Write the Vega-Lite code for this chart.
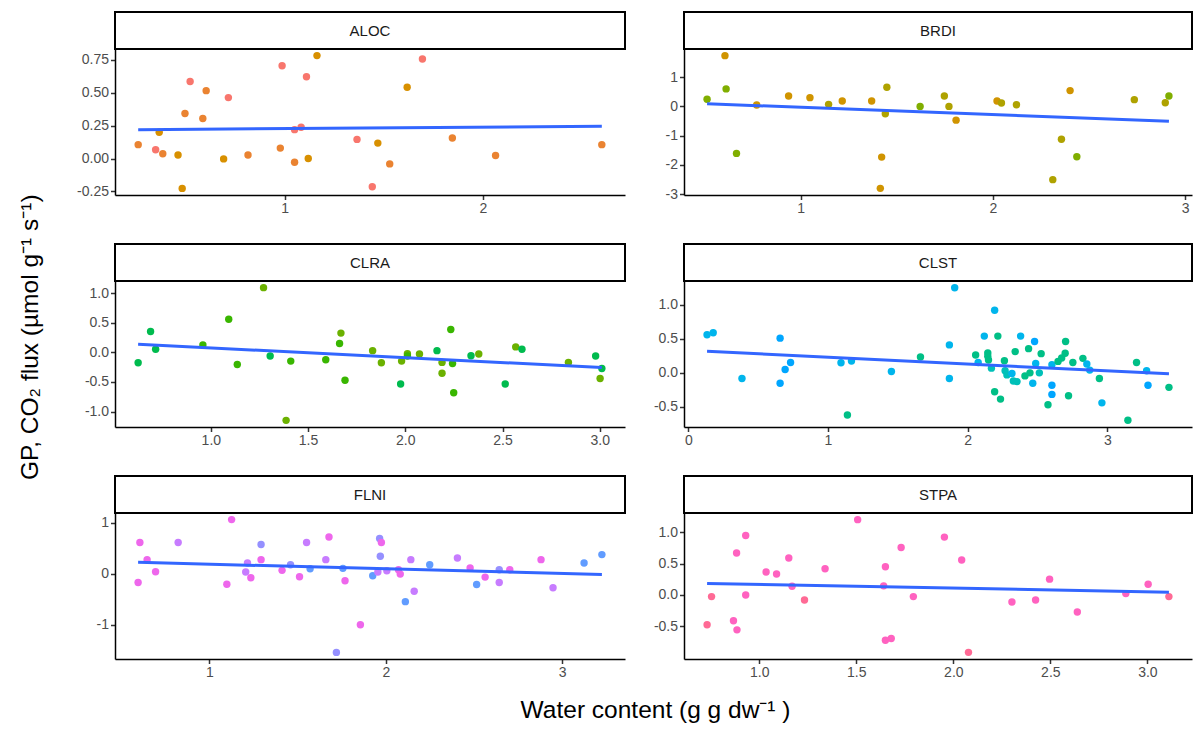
{
"$schema": "https://vega.github.io/schema/vega-lite/v6.json",
"padding": {"top": 11, "left": 18, "right": 3, "bottom": 5},
"config": {
  "font": "Liberation Sans",
  "view": {"stroke": null},
  "axis": {"grid": false, "domainColor": "#000000", "domainWidth": 1.5, "tickColor": "#333333", "tickWidth": 1.5, "tickSize": 4.5, "labelColor": "#4D4D4D", "labelFontSize": 14, "labelPadding": 2, "labelFlush": false, "labelOverlap": false, "titleFontSize": 18, "titleFontWeight": "normal", "titleColor": "#000000", "titleFont": "Liberation Sans", "labelFont": "Liberation Sans"},
  "axisY": {"minExtent": 34, "maxExtent": 34}
},
"datasets": {
"pts": [
{"p":"ALOC","x":0.261,"y":0.105,"g":"A2"},{"p":"ALOC","x":0.349,"y":0.066,"g":"A1"},{"p":"ALOC","x":0.367,"y":0.199,"g":"A3"},{"p":"ALOC","x":0.385,"y":0.036,"g":"A2"},{"p":"ALOC","x":0.462,"y":0.026,"g":"A3"},{"p":"ALOC","x":0.483,"y":-0.227,"g":"A3"},{"p":"ALOC","x":0.497,"y":0.342,"g":"A2"},{"p":"ALOC","x":0.523,"y":0.584,"g":"A1"},{"p":"ALOC","x":0.587,"y":0.304,"g":"A2"},{"p":"ALOC","x":0.604,"y":0.515,"g":"A2"},{"p":"ALOC","x":0.692,"y":-0.003,"g":"A3"},{"p":"ALOC","x":0.716,"y":0.462,"g":"A1"},{"p":"ALOC","x":0.815,"y":0.026,"g":"A2"},{"p":"ALOC","x":0.978,"y":0.079,"g":"A2"},{"p":"ALOC","x":0.987,"y":0.704,"g":"A1"},{"p":"ALOC","x":1.05,"y":-0.028,"g":"A2"},{"p":"ALOC","x":1.05,"y":0.219,"g":"A1"},{"p":"ALOC","x":1.083,"y":0.237,"g":"A1"},{"p":"ALOC","x":1.11,"y":0.62,"g":"A1"},{"p":"ALOC","x":1.119,"y":0.0,"g":"A3"},{"p":"ALOC","x":1.163,"y":0.781,"g":"A3"},{"p":"ALOC","x":1.365,"y":0.145,"g":"A1"},{"p":"ALOC","x":1.442,"y":-0.214,"g":"A1"},{"p":"ALOC","x":1.47,"y":0.117,"g":"A3"},{"p":"ALOC","x":1.53,"y":-0.041,"g":"A2"},{"p":"ALOC","x":1.618,"y":0.541,"g":"A3"},{"p":"ALOC","x":1.695,"y":0.755,"g":"A1"},{"p":"ALOC","x":1.846,"y":0.156,"g":"A2"},{"p":"ALOC","x":2.064,"y":0.023,"g":"A2"},{"p":"ALOC","x":2.6,"y":0.105,"g":"A2"},
{"p":"BRDI","x":0.514,"y":0.241,"g":"B3"},{"p":"BRDI","x":0.607,"y":1.736,"g":"B1"},{"p":"BRDI","x":0.613,"y":0.598,"g":"B3"},{"p":"BRDI","x":0.667,"y":-1.609,"g":"B3"},{"p":"BRDI","x":0.772,"y":0.046,"g":"B1"},{"p":"BRDI","x":0.938,"y":0.356,"g":"B1"},{"p":"BRDI","x":1.049,"y":0.299,"g":"B1"},{"p":"BRDI","x":1.146,"y":0.069,"g":"B2"},{"p":"BRDI","x":1.217,"y":0.184,"g":"B1"},{"p":"BRDI","x":1.37,"y":0.184,"g":"B1"},{"p":"BRDI","x":1.422,"y":-1.736,"g":"B1"},{"p":"BRDI","x":1.415,"y":-2.805,"g":"B1"},{"p":"BRDI","x":1.441,"y":-0.253,"g":"B2"},{"p":"BRDI","x":1.449,"y":0.655,"g":"B2"},{"p":"BRDI","x":1.622,"y":0.0,"g":"B3"},{"p":"BRDI","x":1.748,"y":0.356,"g":"B2"},{"p":"BRDI","x":1.772,"y":0.0,"g":"B2"},{"p":"BRDI","x":1.809,"y":-0.471,"g":"B1"},{"p":"BRDI","x":2.022,"y":0.184,"g":"B1"},{"p":"BRDI","x":2.045,"y":0.115,"g":"B2"},{"p":"BRDI","x":2.123,"y":0.057,"g":"B2"},{"p":"BRDI","x":2.312,"y":-2.506,"g":"B2"},{"p":"BRDI","x":2.357,"y":-1.126,"g":"B2"},{"p":"BRDI","x":2.402,"y":0.54,"g":"B1"},{"p":"BRDI","x":2.437,"y":-1.724,"g":"B3"},{"p":"BRDI","x":2.736,"y":0.23,"g":"B2"},{"p":"BRDI","x":2.897,"y":0.126,"g":"B2"},{"p":"BRDI","x":2.916,"y":0.356,"g":"B3"},
{"p":"CLRA","x":0.626,"y":-0.176,"g":"C3"},{"p":"CLRA","x":0.69,"y":0.352,"g":"C3"},{"p":"CLRA","x":0.716,"y":0.051,"g":"C3"},{"p":"CLRA","x":0.959,"y":0.125,"g":"C2"},{"p":"CLRA","x":1.092,"y":0.557,"g":"C2"},{"p":"CLRA","x":1.136,"y":-0.205,"g":"C2"},{"p":"CLRA","x":1.271,"y":1.091,"g":"C1"},{"p":"CLRA","x":1.305,"y":-0.063,"g":"C3"},{"p":"CLRA","x":1.387,"y":-1.148,"g":"C1"},{"p":"CLRA","x":1.411,"y":-0.148,"g":"C2"},{"p":"CLRA","x":1.591,"y":-0.125,"g":"C2"},{"p":"CLRA","x":1.662,"y":0.148,"g":"C2"},{"p":"CLRA","x":1.669,"y":0.324,"g":"C1"},{"p":"CLRA","x":1.69,"y":-0.472,"g":"C2"},{"p":"CLRA","x":1.832,"y":0.028,"g":"C1"},{"p":"CLRA","x":1.877,"y":-0.176,"g":"C1"},{"p":"CLRA","x":1.981,"y":-0.148,"g":"C1"},{"p":"CLRA","x":1.976,"y":-0.534,"g":"C3"},{"p":"CLRA","x":2.011,"y":-0.023,"g":"C1"},{"p":"CLRA","x":2.011,"y":-0.063,"g":"C2"},{"p":"CLRA","x":2.073,"y":-0.028,"g":"C1"},{"p":"CLRA","x":2.163,"y":0.028,"g":"C3"},{"p":"CLRA","x":2.189,"y":-0.17,"g":"C1"},{"p":"CLRA","x":2.189,"y":-0.352,"g":"C1"},{"p":"CLRA","x":2.234,"y":0.386,"g":"C2"},{"p":"CLRA","x":2.243,"y":-0.188,"g":"C2"},{"p":"CLRA","x":2.249,"y":-0.682,"g":"C2"},{"p":"CLRA","x":2.338,"y":-0.057,"g":"C3"},{"p":"CLRA","x":2.378,"y":-0.028,"g":"C1"},{"p":"CLRA","x":2.514,"y":-0.534,"g":"C3"},{"p":"CLRA","x":2.568,"y":0.091,"g":"C1"},{"p":"CLRA","x":2.6,"y":0.051,"g":"C3"},{"p":"CLRA","x":2.839,"y":-0.17,"g":"C1"},{"p":"CLRA","x":2.979,"y":-0.063,"g":"C3"},{"p":"CLRA","x":3.002,"y":-0.443,"g":"C1"},{"p":"CLRA","x":3.011,"y":-0.273,"g":"C3"},
{"p":"CLST","x":0.134,"y":0.559,"g":"D1"},{"p":"CLST","x":0.178,"y":0.589,"g":"D1"},{"p":"CLST","x":0.384,"y":-0.084,"g":"D1"},{"p":"CLST","x":0.657,"y":0.51,"g":"D2"},{"p":"CLST","x":0.657,"y":-0.153,"g":"D2"},{"p":"CLST","x":0.693,"y":0.05,"g":"D2"},{"p":"CLST","x":0.732,"y":0.153,"g":"D2"},{"p":"CLST","x":1.093,"y":0.149,"g":"D1"},{"p":"CLST","x":1.139,"y":-0.619,"g":"D3"},{"p":"CLST","x":1.168,"y":0.173,"g":"D1"},{"p":"CLST","x":1.454,"y":0.02,"g":"D1"},{"p":"CLST","x":1.662,"y":0.233,"g":"D3"},{"p":"CLST","x":1.869,"y":0.411,"g":"D1"},{"p":"CLST","x":1.869,"y":-0.084,"g":"D1"},{"p":"CLST","x":1.907,"y":1.252,"g":"D1"},{"p":"CLST","x":2.057,"y":0.262,"g":"D3"},{"p":"CLST","x":2.075,"y":0.153,"g":"D1"},{"p":"CLST","x":2.119,"y":0.54,"g":"D1"},{"p":"CLST","x":2.144,"y":0.292,"g":"D3"},{"p":"CLST","x":2.144,"y":0.243,"g":"D3"},{"p":"CLST","x":2.149,"y":0.188,"g":"D3"},{"p":"CLST","x":2.17,"y":0.069,"g":"D4"},{"p":"CLST","x":2.193,"y":0.921,"g":"D1"},{"p":"CLST","x":2.193,"y":-0.277,"g":"D3"},{"p":"CLST","x":2.216,"y":0.54,"g":"D3"},{"p":"CLST","x":2.235,"y":-0.386,"g":"D3"},{"p":"CLST","x":2.263,"y":0.178,"g":"D3"},{"p":"CLST","x":2.268,"y":0.03,"g":"D4"},{"p":"CLST","x":2.281,"y":-0.03,"g":"D4"},{"p":"CLST","x":2.317,"y":-0.01,"g":"D1"},{"p":"CLST","x":2.327,"y":-0.119,"g":"D4"},{"p":"CLST","x":2.34,"y":0.312,"g":"D3"},{"p":"CLST","x":2.353,"y":-0.129,"g":"D4"},{"p":"CLST","x":2.379,"y":0.54,"g":"D1"},{"p":"CLST","x":2.41,"y":-0.045,"g":"D3"},{"p":"CLST","x":2.436,"y":0.356,"g":"D3"},{"p":"CLST","x":2.446,"y":0.0,"g":"D3"},{"p":"CLST","x":2.466,"y":-0.153,"g":"D1"},{"p":"CLST","x":2.479,"y":0.46,"g":"D2"},{"p":"CLST","x":2.487,"y":0.139,"g":"D1"},{"p":"CLST","x":2.513,"y":0.0,"g":"D4"},{"p":"CLST","x":2.526,"y":0.282,"g":"D3"},{"p":"CLST","x":2.575,"y":-0.47,"g":"D3"},{"p":"CLST","x":2.603,"y":0.119,"g":"D1"},{"p":"CLST","x":2.603,"y":-0.183,"g":"D2"},{"p":"CLST","x":2.603,"y":-0.317,"g":"D2"},{"p":"CLST","x":2.647,"y":0.168,"g":"D3"},{"p":"CLST","x":2.673,"y":0.218,"g":"D3"},{"p":"CLST","x":2.698,"y":0.287,"g":"D3"},{"p":"CLST","x":2.701,"y":0.46,"g":"D3"},{"p":"CLST","x":2.722,"y":-0.337,"g":"D3"},{"p":"CLST","x":2.753,"y":0.153,"g":"D3"},{"p":"CLST","x":2.825,"y":0.213,"g":"D3"},{"p":"CLST","x":2.853,"y":0.129,"g":"D1"},{"p":"CLST","x":2.874,"y":0.04,"g":"D1"},{"p":"CLST","x":2.943,"y":-0.084,"g":"D3"},{"p":"CLST","x":2.961,"y":-0.441,"g":"D1"},{"p":"CLST","x":3.147,"y":-0.698,"g":"D3"},{"p":"CLST","x":3.209,"y":0.153,"g":"D3"},{"p":"CLST","x":3.281,"y":0.03,"g":"D1"},{"p":"CLST","x":3.291,"y":-0.183,"g":"D2"},{"p":"CLST","x":3.441,"y":-0.213,"g":"D3"},
{"p":"FLNI","x":0.596,"y":-0.172,"g":"E1"},{"p":"FLNI","x":0.606,"y":0.614,"g":"E1"},{"p":"FLNI","x":0.647,"y":0.277,"g":"E1"},{"p":"FLNI","x":0.695,"y":0.04,"g":"E1"},{"p":"FLNI","x":0.823,"y":0.614,"g":"E2"},{"p":"FLNI","x":1.099,"y":-0.205,"g":"E1"},{"p":"FLNI","x":1.126,"y":1.063,"g":"E1"},{"p":"FLNI","x":1.206,"y":0.033,"g":"E2"},{"p":"FLNI","x":1.216,"y":0.211,"g":"E2"},{"p":"FLNI","x":1.235,"y":-0.079,"g":"E1"},{"p":"FLNI","x":1.293,"y":0.574,"g":"E3"},{"p":"FLNI","x":1.293,"y":0.277,"g":"E1"},{"p":"FLNI","x":1.412,"y":0.066,"g":"E1"},{"p":"FLNI","x":1.46,"y":0.178,"g":"E3"},{"p":"FLNI","x":1.511,"y":-0.059,"g":"E1"},{"p":"FLNI","x":1.551,"y":0.614,"g":"E2"},{"p":"FLNI","x":1.571,"y":0.099,"g":"E4"},{"p":"FLNI","x":1.66,"y":0.277,"g":"E2"},{"p":"FLNI","x":1.678,"y":0.72,"g":"E1"},{"p":"FLNI","x":1.72,"y":-1.545,"g":"E3"},{"p":"FLNI","x":1.757,"y":0.106,"g":"E4"},{"p":"FLNI","x":1.769,"y":-0.139,"g":"E1"},{"p":"FLNI","x":1.856,"y":-1.003,"g":"E1"},{"p":"FLNI","x":1.926,"y":-0.04,"g":"E4"},{"p":"FLNI","x":1.955,"y":0.033,"g":"E2"},{"p":"FLNI","x":1.965,"y":0.693,"g":"E3"},{"p":"FLNI","x":1.969,"y":0.343,"g":"E3"},{"p":"FLNI","x":1.975,"y":0.614,"g":"E1"},{"p":"FLNI","x":2.006,"y":0.059,"g":"E2"},{"p":"FLNI","x":2.072,"y":0.079,"g":"E1"},{"p":"FLNI","x":2.082,"y":-0.007,"g":"E1"},{"p":"FLNI","x":2.111,"y":-0.548,"g":"E4"},{"p":"FLNI","x":2.142,"y":0.277,"g":"E2"},{"p":"FLNI","x":2.161,"y":-0.343,"g":"E2"},{"p":"FLNI","x":2.249,"y":0.178,"g":"E4"},{"p":"FLNI","x":2.406,"y":0.31,"g":"E2"},{"p":"FLNI","x":2.478,"y":0.112,"g":"E1"},{"p":"FLNI","x":2.515,"y":-0.211,"g":"E4"},{"p":"FLNI","x":2.563,"y":-0.066,"g":"E1"},{"p":"FLNI","x":2.643,"y":0.079,"g":"E3"},{"p":"FLNI","x":2.643,"y":-0.172,"g":"E2"},{"p":"FLNI","x":2.703,"y":0.079,"g":"E1"},{"p":"FLNI","x":2.88,"y":0.277,"g":"E1"},{"p":"FLNI","x":2.948,"y":-0.277,"g":"E2"},{"p":"FLNI","x":3.124,"y":0.211,"g":"E4"},{"p":"FLNI","x":3.225,"y":0.376,"g":"E4"},
{"p":"STPA","x":0.731,"y":-0.476,"g":"F2"},{"p":"STPA","x":0.754,"y":-0.027,"g":"F2"},{"p":"STPA","x":0.867,"y":-0.412,"g":"F1"},{"p":"STPA","x":0.883,"y":0.668,"g":"F1"},{"p":"STPA","x":0.885,"y":-0.556,"g":"F1"},{"p":"STPA","x":0.93,"y":0.947,"g":"F1"},{"p":"STPA","x":0.93,"y":0.0,"g":"F1"},{"p":"STPA","x":1.035,"y":0.364,"g":"F1"},{"p":"STPA","x":1.089,"y":0.332,"g":"F1"},{"p":"STPA","x":1.152,"y":0.588,"g":"F1"},{"p":"STPA","x":1.169,"y":0.139,"g":"F1"},{"p":"STPA","x":1.233,"y":-0.08,"g":"F2"},{"p":"STPA","x":1.339,"y":0.417,"g":"F1"},{"p":"STPA","x":1.507,"y":1.198,"g":"F1"},{"p":"STPA","x":1.641,"y":0.144,"g":"F1"},{"p":"STPA","x":1.65,"y":0.449,"g":"F1"},{"p":"STPA","x":1.65,"y":-0.722,"g":"F1"},{"p":"STPA","x":1.68,"y":-0.695,"g":"F1"},{"p":"STPA","x":1.731,"y":0.754,"g":"F1"},{"p":"STPA","x":1.794,"y":-0.027,"g":"F1"},{"p":"STPA","x":1.954,"y":0.92,"g":"F1"},{"p":"STPA","x":2.043,"y":0.556,"g":"F1"},{"p":"STPA","x":2.078,"y":-0.914,"g":"F2"},{"p":"STPA","x":2.302,"y":-0.112,"g":"F1"},{"p":"STPA","x":2.424,"y":-0.08,"g":"F1"},{"p":"STPA","x":2.496,"y":0.251,"g":"F1"},{"p":"STPA","x":2.639,"y":-0.273,"g":"F1"},{"p":"STPA","x":2.889,"y":0.021,"g":"F1"},{"p":"STPA","x":3.004,"y":0.171,"g":"F1"},{"p":"STPA","x":3.111,"y":-0.027,"g":"F2"}
],
"fit": [
{"p":"ALOC","x":0.261,"y":0.219},{"p":"ALOC","x":2.6,"y":0.245},
{"p":"BRDI","x":0.514,"y":0.09},{"p":"BRDI","x":2.916,"y":-0.506},
{"p":"CLRA","x":0.626,"y":0.136},{"p":"CLRA","x":3.011,"y":-0.256},
{"p":"CLST","x":0.134,"y":0.317},{"p":"CLST","x":3.441,"y":-0.015},
{"p":"FLNI","x":0.596,"y":0.224},{"p":"FLNI","x":3.225,"y":-0.013},
{"p":"STPA","x":0.731,"y":0.182},{"p":"STPA","x":3.111,"y":0.043}
]
},
"title": {"text": "Water content (g g dw⁻¹ )", "orient": "bottom", "anchor": "middle", "offset": 19, "dx": 50, "fontSize": 24.5, "fontWeight": "normal", "font": "Liberation Sans", "color": "#000000"},
"vconcat": [
{
"title": {"text": "GP, CO₂ flux (µmol g⁻¹ s⁻¹)", "orient": "left", "anchor": "middle", "offset": 33, "dx": 8, "fontSize": 24.5, "fontWeight": "normal", "font": "Liberation Sans", "color": "#000000"},
"columns": 2,
"spacing": {"row": 27, "column": 24},
"concat": [
{"vconcat": [
  {"width": 510, "height": 37, "view": {"stroke": "black", "strokeWidth": 2, "fill": "white"}, "data": {"values": [{"label": "ALOC"}]}, "mark": {"type": "text", "fontSize": 15, "font": "Liberation Sans", "color": "#1A1A1A"}, "encoding": {"text": {"field": "label", "type": "nominal"}}},
  {"width": 510, "height": 146, "layer": [
    {"data": {"name": "pts"}, "transform": [{"filter": "datum.p == 'ALOC'"}], "mark": {"type": "circle", "size": 55, "opacity": 1},
     "encoding": {
      "x": {"field": "x", "type": "quantitative", "scale": {"domain": [0.144, 2.717], "nice": false, "zero": false}, "axis": {"values": [1, 2], "format": "d", "tickCount": 20, "labelOverlap": false, "title": null}},
      "y": {"field": "y", "type": "quantitative", "scale": {"domain": [-0.277, 0.831], "nice": false, "zero": false}, "axis": {"values": [-0.25, 0, 0.25, 0.5, 0.75], "tickCount": 20, "labelOverlap": false, "labelExpr": "(datum.value < 0 ? '-' : '') + format(abs(datum.value), '.2f')", "title": null}},
      "color": {"field": "g", "type": "nominal", "legend": null, "scale": {"domain": ["A1","A2","A3","B1","B2","B3","C1","C2","C3","D1","D2","D3","D4","E1","E2","E3","E4","F1","F2"], "range": ["#F8766D","#EA8331","#D89000","#D09400","#AFA200","#80AE00","#6BB100","#39B600","#00BB4E","#00B5EC","#00A6FF","#00BF86","#00C0B8","#EE67EC","#C77CFF","#9590FF","#619CFF","#FF62C0","#FF6A95"]}}}},
    {"data": {"name": "fit"}, "transform": [{"filter": "datum.p == 'ALOC'"}], "mark": {"type": "line", "color": "#3366FF", "strokeWidth": 3}, "encoding": {"x": {"field": "x", "type": "quantitative"}, "y": {"field": "y", "type": "quantitative"}}}
  ]}
 ], "spacing": 0, "bounds": "flush"},
{"vconcat": [
  {"width": 508, "height": 37, "view": {"stroke": "black", "strokeWidth": 2, "fill": "white"}, "data": {"values": [{"label": "BRDI"}]}, "mark": {"type": "text", "fontSize": 15, "font": "Liberation Sans", "color": "#1A1A1A"}, "encoding": {"text": {"field": "label", "type": "nominal"}}},
  {"width": 508, "height": 146, "layer": [
    {"data": {"name": "pts"}, "transform": [{"filter": "datum.p == 'BRDI'"}], "mark": {"type": "circle", "size": 55, "opacity": 1},
     "encoding": {
      "x": {"field": "x", "type": "quantitative", "scale": {"domain": [0.394, 3.036], "nice": false, "zero": false}, "axis": {"values": [1, 2, 3], "format": "d", "tickCount": 20, "labelOverlap": false, "title": null}},
      "y": {"field": "y", "type": "quantitative", "scale": {"domain": [-3.032, 1.963], "nice": false, "zero": false}, "axis": {"values": [-3, -2, -1, 0, 1], "tickCount": 20, "labelOverlap": false, "labelExpr": "(datum.value < 0 ? '-' : '') + format(abs(datum.value), 'd')", "title": null}},
      "color": {"field": "g", "type": "nominal", "legend": null, "scale": {"domain": ["A1","A2","A3","B1","B2","B3","C1","C2","C3","D1","D2","D3","D4","E1","E2","E3","E4","F1","F2"], "range": ["#F8766D","#EA8331","#D89000","#D09400","#AFA200","#80AE00","#6BB100","#39B600","#00BB4E","#00B5EC","#00A6FF","#00BF86","#00C0B8","#EE67EC","#C77CFF","#9590FF","#619CFF","#FF62C0","#FF6A95"]}}}},
    {"data": {"name": "fit"}, "transform": [{"filter": "datum.p == 'BRDI'"}], "mark": {"type": "line", "color": "#3366FF", "strokeWidth": 3}, "encoding": {"x": {"field": "x", "type": "quantitative"}, "y": {"field": "y", "type": "quantitative"}}}
  ]}
 ], "spacing": 0, "bounds": "flush"},
{"vconcat": [
  {"width": 510, "height": 37, "view": {"stroke": "black", "strokeWidth": 2, "fill": "white"}, "data": {"values": [{"label": "CLRA"}]}, "mark": {"type": "text", "fontSize": 15, "font": "Liberation Sans", "color": "#1A1A1A"}, "encoding": {"text": {"field": "label", "type": "nominal"}}},
  {"width": 510, "height": 146, "layer": [
    {"data": {"name": "pts"}, "transform": [{"filter": "datum.p == 'CLRA'"}], "mark": {"type": "circle", "size": 55, "opacity": 1},
     "encoding": {
      "x": {"field": "x", "type": "quantitative", "scale": {"domain": [0.507, 3.13], "nice": false, "zero": false}, "axis": {"values": [1, 1.5, 2, 2.5, 3], "format": ".1f", "tickCount": 20, "labelOverlap": false, "title": null}},
      "y": {"field": "y", "type": "quantitative", "scale": {"domain": [-1.26, 1.203], "nice": false, "zero": false}, "axis": {"values": [-1, -0.5, 0, 0.5, 1], "tickCount": 20, "labelOverlap": false, "labelExpr": "(datum.value < 0 ? '-' : '') + format(abs(datum.value), '.1f')", "title": null}},
      "color": {"field": "g", "type": "nominal", "legend": null, "scale": {"domain": ["A1","A2","A3","B1","B2","B3","C1","C2","C3","D1","D2","D3","D4","E1","E2","E3","E4","F1","F2"], "range": ["#F8766D","#EA8331","#D89000","#D09400","#AFA200","#80AE00","#6BB100","#39B600","#00BB4E","#00B5EC","#00A6FF","#00BF86","#00C0B8","#EE67EC","#C77CFF","#9590FF","#619CFF","#FF62C0","#FF6A95"]}}}},
    {"data": {"name": "fit"}, "transform": [{"filter": "datum.p == 'CLRA'"}], "mark": {"type": "line", "color": "#3366FF", "strokeWidth": 3}, "encoding": {"x": {"field": "x", "type": "quantitative"}, "y": {"field": "y", "type": "quantitative"}}}
  ]}
 ], "spacing": 0, "bounds": "flush"},
{"vconcat": [
  {"width": 508, "height": 37, "view": {"stroke": "black", "strokeWidth": 2, "fill": "white"}, "data": {"values": [{"label": "CLST"}]}, "mark": {"type": "text", "fontSize": 15, "font": "Liberation Sans", "color": "#1A1A1A"}, "encoding": {"text": {"field": "label", "type": "nominal"}}},
  {"width": 508, "height": 146, "layer": [
    {"data": {"name": "pts"}, "transform": [{"filter": "datum.p == 'CLST'"}], "mark": {"type": "circle", "size": 55, "opacity": 1},
     "encoding": {
      "x": {"field": "x", "type": "quantitative", "scale": {"domain": [-0.031, 3.606], "nice": false, "zero": false}, "axis": {"values": [0, 1, 2, 3], "format": "d", "tickCount": 20, "labelOverlap": false, "title": null}},
      "y": {"field": "y", "type": "quantitative", "scale": {"domain": [-0.796, 1.35], "nice": false, "zero": false}, "axis": {"values": [-0.5, 0, 0.5, 1], "tickCount": 20, "labelOverlap": false, "labelExpr": "(datum.value < 0 ? '-' : '') + format(abs(datum.value), '.1f')", "title": null}},
      "color": {"field": "g", "type": "nominal", "legend": null, "scale": {"domain": ["A1","A2","A3","B1","B2","B3","C1","C2","C3","D1","D2","D3","D4","E1","E2","E3","E4","F1","F2"], "range": ["#F8766D","#EA8331","#D89000","#D09400","#AFA200","#80AE00","#6BB100","#39B600","#00BB4E","#00B5EC","#00A6FF","#00BF86","#00C0B8","#EE67EC","#C77CFF","#9590FF","#619CFF","#FF62C0","#FF6A95"]}}}},
    {"data": {"name": "fit"}, "transform": [{"filter": "datum.p == 'CLST'"}], "mark": {"type": "line", "color": "#3366FF", "strokeWidth": 3}, "encoding": {"x": {"field": "x", "type": "quantitative"}, "y": {"field": "y", "type": "quantitative"}}}
  ]}
 ], "spacing": 0, "bounds": "flush"},
{"vconcat": [
  {"width": 510, "height": 37, "view": {"stroke": "black", "strokeWidth": 2, "fill": "white"}, "data": {"values": [{"label": "FLNI"}]}, "mark": {"type": "text", "fontSize": 15, "font": "Liberation Sans", "color": "#1A1A1A"}, "encoding": {"text": {"field": "label", "type": "nominal"}}},
  {"width": 510, "height": 146, "layer": [
    {"data": {"name": "pts"}, "transform": [{"filter": "datum.p == 'FLNI'"}], "mark": {"type": "circle", "size": 55, "opacity": 1},
     "encoding": {
      "x": {"field": "x", "type": "quantitative", "scale": {"domain": [0.465, 3.356], "nice": false, "zero": false}, "axis": {"values": [1, 2, 3], "format": "d", "tickCount": 20, "labelOverlap": false, "title": null}},
      "y": {"field": "y", "type": "quantitative", "scale": {"domain": [-1.675, 1.193], "nice": false, "zero": false}, "axis": {"values": [-1, 0, 1], "tickCount": 20, "labelOverlap": false, "labelExpr": "(datum.value < 0 ? '-' : '') + format(abs(datum.value), 'd')", "title": null}},
      "color": {"field": "g", "type": "nominal", "legend": null, "scale": {"domain": ["A1","A2","A3","B1","B2","B3","C1","C2","C3","D1","D2","D3","D4","E1","E2","E3","E4","F1","F2"], "range": ["#F8766D","#EA8331","#D89000","#D09400","#AFA200","#80AE00","#6BB100","#39B600","#00BB4E","#00B5EC","#00A6FF","#00BF86","#00C0B8","#EE67EC","#C77CFF","#9590FF","#619CFF","#FF62C0","#FF6A95"]}}}},
    {"data": {"name": "fit"}, "transform": [{"filter": "datum.p == 'FLNI'"}], "mark": {"type": "line", "color": "#3366FF", "strokeWidth": 3}, "encoding": {"x": {"field": "x", "type": "quantitative"}, "y": {"field": "y", "type": "quantitative"}}}
  ]}
 ], "spacing": 0, "bounds": "flush"},
{"vconcat": [
  {"width": 508, "height": 37, "view": {"stroke": "black", "strokeWidth": 2, "fill": "white"}, "data": {"values": [{"label": "STPA"}]}, "mark": {"type": "text", "fontSize": 15, "font": "Liberation Sans", "color": "#1A1A1A"}, "encoding": {"text": {"field": "label", "type": "nominal"}}},
  {"width": 508, "height": 146, "layer": [
    {"data": {"name": "pts"}, "transform": [{"filter": "datum.p == 'STPA'"}], "mark": {"type": "circle", "size": 55, "opacity": 1},
     "encoding": {
      "x": {"field": "x", "type": "quantitative", "scale": {"domain": [0.612, 3.23], "nice": false, "zero": false}, "axis": {"values": [1, 1.5, 2, 2.5, 3], "format": ".1f", "tickCount": 20, "labelOverlap": false, "title": null}},
      "y": {"field": "y", "type": "quantitative", "scale": {"domain": [-1.02, 1.304], "nice": false, "zero": false}, "axis": {"values": [-0.5, 0, 0.5, 1], "tickCount": 20, "labelOverlap": false, "labelExpr": "(datum.value < 0 ? '-' : '') + format(abs(datum.value), '.1f')", "title": null}},
      "color": {"field": "g", "type": "nominal", "legend": null, "scale": {"domain": ["A1","A2","A3","B1","B2","B3","C1","C2","C3","D1","D2","D3","D4","E1","E2","E3","E4","F1","F2"], "range": ["#F8766D","#EA8331","#D89000","#D09400","#AFA200","#80AE00","#6BB100","#39B600","#00BB4E","#00B5EC","#00A6FF","#00BF86","#00C0B8","#EE67EC","#C77CFF","#9590FF","#619CFF","#FF62C0","#FF6A95"]}}}},
    {"data": {"name": "fit"}, "transform": [{"filter": "datum.p == 'STPA'"}], "mark": {"type": "line", "color": "#3366FF", "strokeWidth": 3}, "encoding": {"x": {"field": "x", "type": "quantitative"}, "y": {"field": "y", "type": "quantitative"}}}
  ]}
 ], "spacing": 0, "bounds": "flush"}
]
}
]
}
